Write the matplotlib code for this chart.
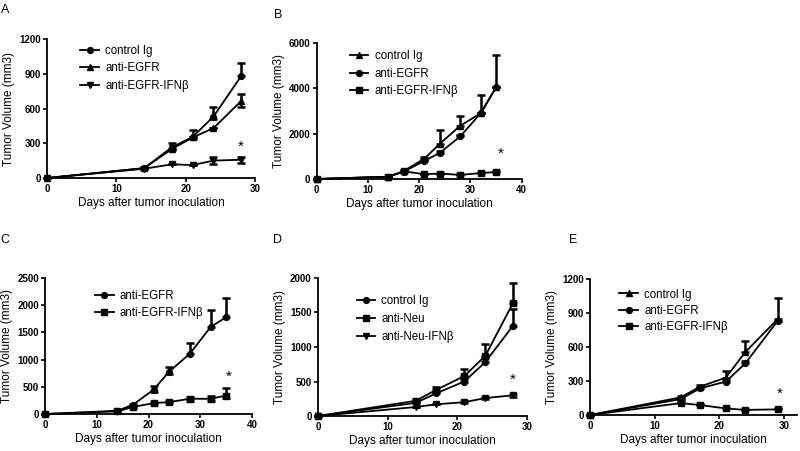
import matplotlib
matplotlib.use("Agg")
import matplotlib.pyplot as plt

plt.rcParams['font.family'] = ['Liberation Sans', 'DejaVu Sans']

# ---------------- data ----------------
# Panel A
A_days = [0, 14, 18, 21, 24, 28]
A_ctrl = [0, 85, 265, 355, 530, 880]
A_ctrl_lo = [0, 0, 20, 20, 20, 0]
A_ctrl_hi = [0, 10, 40, 60, 85, 110]
A_egfr = [0, 85, 250, 350, 430, 665]
A_egfr_lo = [0, 0, 0, 0, 0, 50]
A_egfr_hi = [0, 0, 0, 0, 0, 60]
A_ifn = [0, 80, 118, 112, 150, 158]
A_ifn_lo = [0, 0, 0, 0, 28, 25]
A_ifn_hi = [0, 0, 0, 0, 28, 25]

# Panel B
B_days = [0, 14, 17, 21, 24, 28, 32, 35]
B_ctrl = [0, 100, 350, 900, 1550, 2350, 2900, 4050]
B_ctrl_lo = [0, 0, 0, 0, 0, 0, 0, 0]
B_ctrl_hi = [0, 0, 40, 80, 600, 420, 800, 1400]
B_egfr = [0, 100, 330, 800, 1150, 1880, 2900, 4050]
B_egfr_lo = [0, 0, 0, 0, 0, 0, 0, 0]
B_egfr_hi = [0, 0, 0, 60, 100, 80, 0, 0]
B_ifn = [0, 100, 340, 210, 240, 180, 260, 310]
B_ifn_lo = [0, 0, 0, 0, 0, 0, 0, 0]
B_ifn_hi = [0, 0, 30, 30, 30, 30, 30, 40]

# Panel C
C_days = [0, 14, 17, 21, 24, 28, 32, 35]
C_egfr = [0, 60, 170, 450, 780, 1110, 1600, 1780]
C_egfr_lo = [0, 0, 0, 40, 40, 0, 0, 0]
C_egfr_hi = [0, 10, 20, 60, 90, 190, 320, 360]
C_ifn = [0, 50, 130, 200, 220, 280, 280, 340]
C_ifn_lo = [0, 0, 0, 20, 20, 40, 40, 40]
C_ifn_hi = [0, 0, 0, 20, 20, 40, 50, 130]

# Panel D
D_days = [0, 14, 17, 21, 24, 28]
D_ctrl = [0, 190, 330, 500, 780, 1310]
D_ctrl_lo = [0, 0, 0, 0, 0, 0]
D_ctrl_hi = [0, 20, 20, 30, 60, 240]
D_neu = [0, 220, 380, 580, 870, 1640]
D_neu_lo = [0, 0, 0, 0, 0, 0]
D_neu_hi = [0, 30, 40, 100, 170, 290]
D_ifn = [0, 130, 170, 200, 260, 300]
D_ifn_lo = [0, 0, 0, 15, 15, 20]
D_ifn_hi = [0, 0, 0, 15, 15, 20]

# Panel E
E_days = [0, 14, 17, 21, 24, 29]
E_ctrl = [0, 155, 250, 330, 555, 845]
E_ctrl_lo = [0, 0, 0, 0, 0, 0]
E_ctrl_hi = [0, 10, 15, 60, 100, 190]
E_egfr = [0, 140, 235, 295, 455, 830]
E_egfr_lo = [0, 0, 0, 0, 0, 0]
E_egfr_hi = [0, 0, 0, 15, 20, 0]
E_ifn = [0, 105, 88, 58, 45, 50]
E_ifn_lo = [0, 0, 0, 0, 0, 0]
E_ifn_hi = [0, 10, 8, 8, 8, 8]

# axis settings
A_yticks = [0, 300, 600, 900, 1200]
B_yticks = [0, 2000, 4000, 6000]
C_yticks = [0, 500, 1000, 1500, 2000, 2500]
D_yticks = [0, 500, 1000, 1500, 2000]
E_yticks = [0, 300, 600, 900, 1200]
xt30 = [0, 10, 20, 30]
xt40 = [0, 10, 20, 30, 40]

# significance asterisks (x, y)
A_star = (27.9, 270)
B_star = (35.8, 1130)
C_star = (35.4, 690)
D_star = (28.0, 520)
E_star = (29.3, 185)

XLABEL = "Days after tumor inoculation"
YLABEL = "Tumor Volume (mm3)"

# ---------------- figure ----------------
fig = plt.figure(figsize=(8.0, 4.51), dpi=100)

def make_ax(rect):
    ax = fig.add_axes(rect)
    for s in ("top", "right"):
        ax.spines[s].set_visible(False)
    for s in ("left", "bottom"):
        ax.spines[s].set_linewidth(1.3)
    ax.tick_params(direction="out", length=3, width=1.2, labelsize=7, pad=1.5)
    return ax

def series(ax, x, y, lo, hi, marker, label):
    ax.errorbar(x, y, yerr=[lo, hi], fmt="none", ecolor="black",
                elinewidth=1.8, capsize=2.8, capthick=1.8,
                clip_on=False, zorder=3)
    ax.plot(x, y, color="black", lw=1.3, marker=marker, ms=4.2,
            clip_on=False, zorder=4, label=label)

def finish(ax, xlim, xticks, ylim, yticks, star, leg_xy, spacing):
    ax.set_xlim(*xlim)
    ax.set_ylim(*ylim)
    ax.set_xticks(xticks)
    ax.set_yticks(yticks)
    for lab in ax.get_xticklabels() + ax.get_yticklabels():
        lab.set_fontweight("bold")
    ax.set_xlabel(XLABEL, fontsize=8.5, labelpad=2)
    ax.set_ylabel(YLABEL, fontsize=8.5, labelpad=3)
    ax.text(star[0], star[1], "*", fontsize=11, ha="center", va="center")
    leg = ax.legend(loc="upper left", bbox_to_anchor=leg_xy, frameon=False,
                    fontsize=8.3, borderpad=0, borderaxespad=0,
                    handlelength=1.6, handletextpad=0.55, labelspacing=spacing)
    return leg

# Panel A
axA = make_ax([0.0588, 0.6053, 0.26, 0.3082])
series(axA, A_days, A_ctrl, A_ctrl_lo, A_ctrl_hi, "o", "control Ig")
series(axA, A_days, A_egfr, A_egfr_lo, A_egfr_hi, "^", "anti-EGFR")
series(axA, A_days, A_ifn, A_ifn_lo, A_ifn_hi, "v", "anti-EGFR-IFNβ")
finish(axA, (0, 30), xt30, (0, 1200), A_yticks, A_star, (0.16, 0.96), 0.5)

# Panel B
axB = make_ax([0.3959, 0.6031, 0.2563, 0.3016])
series(axB, B_days, B_ctrl, B_ctrl_lo, B_ctrl_hi, "^", "control Ig")
series(axB, B_days, B_egfr, B_egfr_lo, B_egfr_hi, "o", "anti-EGFR")
series(axB, B_days, B_ifn, B_ifn_lo, B_ifn_hi, "s", "anti-EGFR-IFNβ")
finish(axB, (0, 40), xt40, (0, 6000), B_yticks, B_star, (0.162, 0.945), 0.45)

# Panel C
axC = make_ax([0.05625, 0.0820, 0.2588, 0.3016])
series(axC, C_days, C_egfr, C_egfr_lo, C_egfr_hi, "o", "anti-EGFR")
series(axC, C_days, C_ifn, C_ifn_lo, C_ifn_hi, "s", "anti-EGFR-IFNβ")
finish(axC, (0, 40), xt40, (0, 2500), C_yticks, C_star, (0.242, 0.915), 0.5)

# Panel D
axD = make_ax([0.3975, 0.0776, 0.2613, 0.306])
series(axD, D_days, D_ctrl, D_ctrl_lo, D_ctrl_hi, "o", "control Ig")
series(axD, D_days, D_neu, D_neu_lo, D_neu_hi, "s", "anti-Neu")
series(axD, D_days, D_ifn, D_ifn_lo, D_ifn_hi, "v", "anti-Neu-IFNβ")
finish(axD, (0, 30), xt30, (0, 2000), D_yticks, D_star, (0.185, 0.875), 0.5)

# Panel E
axE = make_ax([0.7375, 0.0798, 0.2588, 0.3016])
series(axE, E_days, E_ctrl, E_ctrl_lo, E_ctrl_hi, "^", "control Ig")
series(axE, E_days, E_egfr, E_egfr_lo, E_egfr_hi, "o", "anti-EGFR")
series(axE, E_days, E_ifn, E_ifn_lo, E_ifn_hi, "s", "anti-EGFR-IFNβ")
finish(axE, (0, 32), xt30, (0, 1200), E_yticks, E_star, (0.142, 0.93), 0.35)

# panel letters
for letter, (px, py) in zip("ABCDE", [(5, 10), (278, 15), (5, 240), (278, 240), (573, 240)]):
    fig.text(px / 800, 1 - py / 451, letter, fontsize=9, ha="center", va="center")

fig.savefig("out.png", dpi=100)
